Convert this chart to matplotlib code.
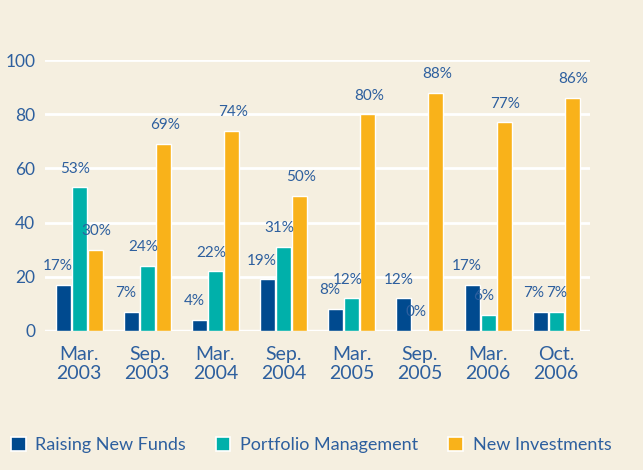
import numpy as np
import matplotlib
matplotlib.use("Agg")
from matplotlib import pyplot as plt
from matplotlib.patches import Patch

periods = ["Mar.\n2003", "Sep.\n2003", "Mar.\n2004", "Sep.\n2004",
           "Mar.\n2005", "Sep.\n2005", "Mar.\n2006", "Oct.\n2006"]
raising = [17, 7, 4, 19, 8, 12, 17, 7]
portfolio = [53, 24, 22, 31, 12, 0, 6, 7]
investments = [30, 69, 74, 50, 80, 88, 77, 86]
series_names = ["Raising New Funds", "Portfolio Management", "New Investments"]

bg = "#f5efe0"
txt = "#2d5f9e"
colors = ["#004a8f", "#00b0aa", "#f9b21a"]
label_dx = [-4, -3, 1]  # label nudges (points) per series

plt.rcParams['font.family'] = ['Lato', 'DejaVu Sans']

fig = plt.figure(figsize=(6.43, 4.7), dpi=100, facecolor=bg)
ax = fig.add_axes([0.07, 0.296, 0.848, 0.576], facecolor=bg)

x = np.arange(len(periods))
step = 0.235
w = 0.22
for i, (vals, c) in enumerate(zip([raising, portfolio, investments], colors)):
    pos = x + (i - 1) * step
    ax.bar(pos, vals, width=w, color=c, edgecolor="white", linewidth=1.0, zorder=3)
    for j, (px, v) in enumerate(zip(pos, vals)):
        dx = label_dx[i]
        if j == 7 and i < 2:
            dx = [-5, 0.5][i]  # the two 7% labels sit side by side
        ax.annotate(f"{v}%", (px, v), xytext=(dx, 13.5), textcoords="offset points",
                    ha="center", va="center", fontsize=11, color=txt, zorder=4)

ax.set_xlim(-0.5, 7.5)
ax.set_ylim(0, 100)
ax.set_yticks([0, 20, 40, 60, 80, 100])
ax.grid(axis="y", color="white", linewidth=2, zorder=1)
ax.axhline(0, color="white", linewidth=2.5, zorder=2)
for s in ax.spines.values():
    s.set_visible(False)
ax.tick_params(length=0, colors=txt)
ax.tick_params(axis="y", pad=7, labelsize=12.5)
ax.tick_params(axis="x", pad=11, labelsize=14)
ax.set_xticks(x)
ax.set_xticklabels(periods, linespacing=1.15)

handles = [Patch(facecolor=c, edgecolor="white", linewidth=1.2) for c in colors]
leg = fig.legend(handles, series_names, loc="lower left", bbox_to_anchor=(0.006, 0.02),
                 borderaxespad=0, ncol=3, frameon=False, fontsize=13,
                 handlelength=0.8, handleheight=0.8, handletextpad=0.55,
                 columnspacing=1.65, labelcolor=txt)

fig.savefig("out.png", dpi=100, facecolor=bg)
